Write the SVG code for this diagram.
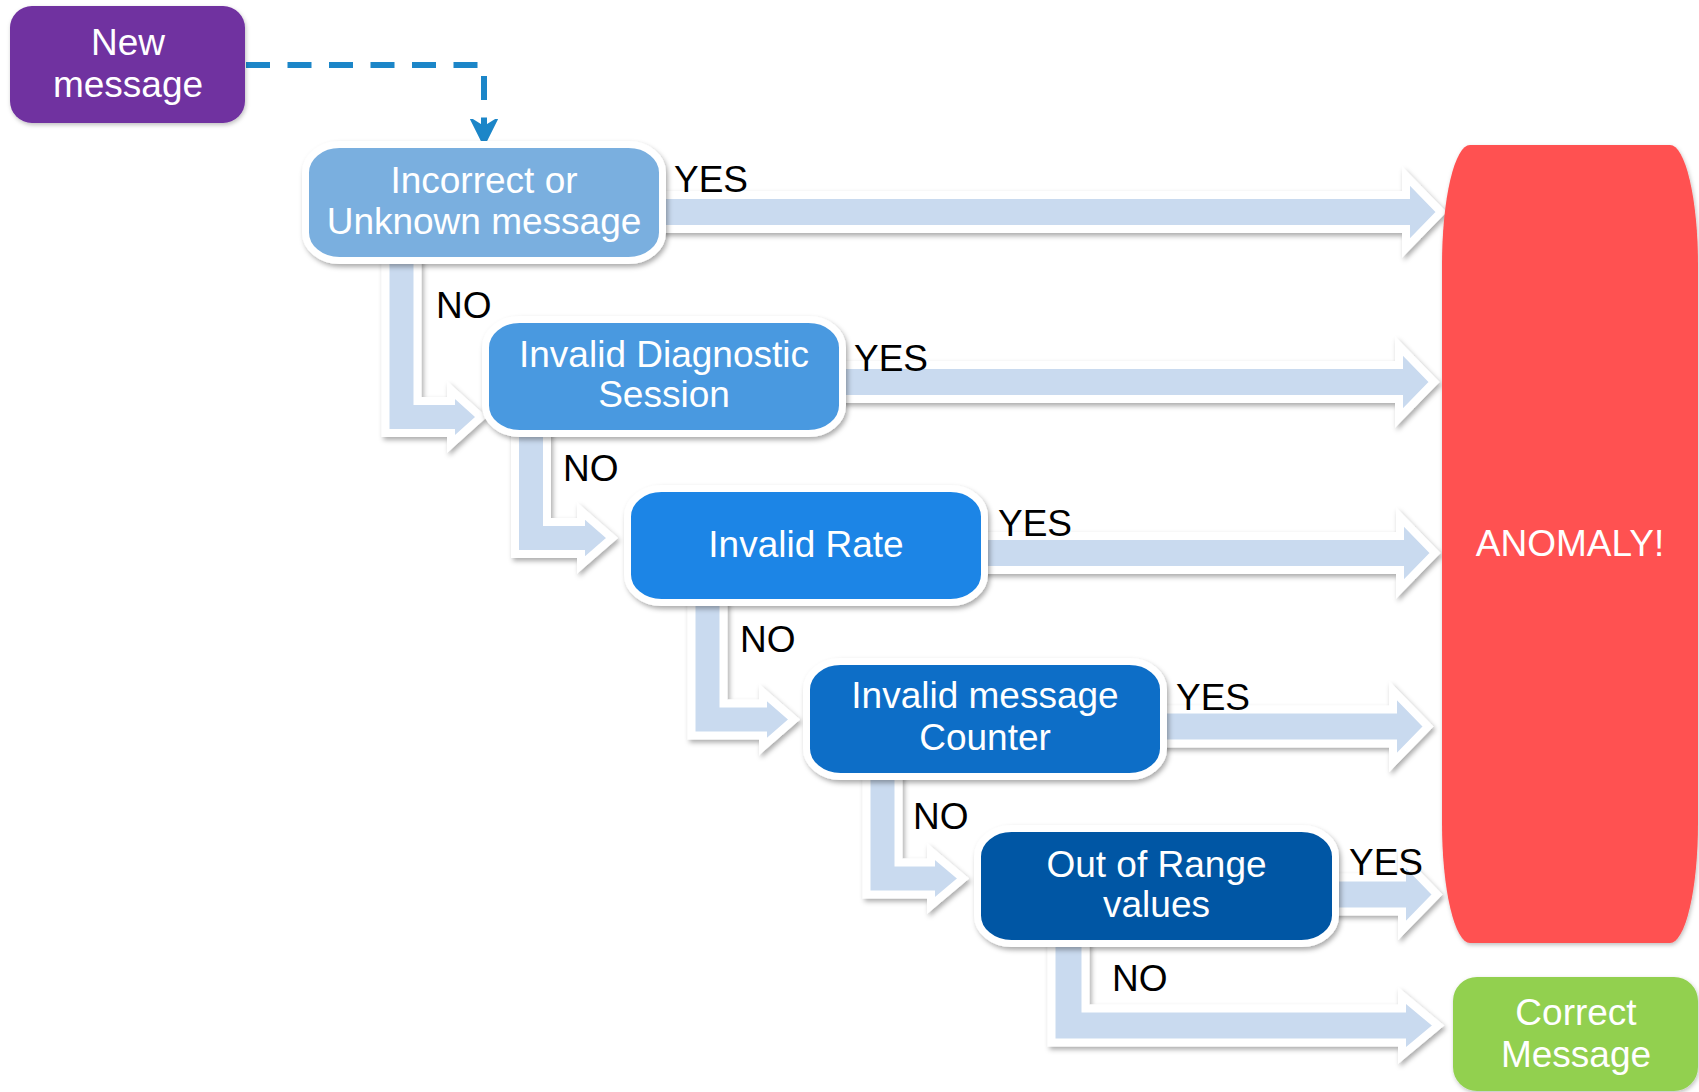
<svg xmlns="http://www.w3.org/2000/svg" width="1699" height="1092" viewBox="0 0 1699 1092">
<style>
text{font-family:"Liberation Sans",Arial,sans-serif;font-size:37px}
.w{fill:#fff;text-anchor:middle}
.lbl{fill:#000}
.blk{fill:#C9DAEF;stroke:#fff;stroke-width:8;stroke-linejoin:miter;filter:url(#sh)}
.dec{stroke:#fff;stroke-width:7;filter:url(#sh)}
</style>
<defs>
<filter id="sh" x="-10%" y="-20%" width="130%" height="150%">
<feDropShadow dx="2" dy="3" stdDeviation="2.5" flood-color="#000" flood-opacity="0.33"/>
</filter>
<filter id="sh2" x="-10%" y="-10%" width="130%" height="130%">
<feDropShadow dx="1" dy="2" stdDeviation="2" flood-color="#000" flood-opacity="0.25"/>
</filter>
<marker id="ah" markerUnits="userSpaceOnUse" viewBox="0 -15 28 30" refX="19" refY="0" markerWidth="28" markerHeight="30" orient="auto">
<path d="M0,-13 L8,0 L0,13 L26,0 Z" fill="#1C86C8" stroke="#1C86C8" stroke-width="2" stroke-linejoin="round"/>
</marker>
</defs>
<rect width="1699" height="1092" fill="#fff"/>

<g id="connectors">
<path d="M246,65 H484 V138" fill="none" stroke="#1C86C8" stroke-width="6" stroke-dasharray="24 17.5" marker-end="url(#ah)"/>
<polygon class="blk" points="655,195 1406,195 1406,176 1441,212 1406,248 1406,229 655,229"/>
<polygon class="blk" points="835,365 1399,365 1399,346 1434,382 1399,418 1399,399 835,399"/>
<polygon class="blk" points="977,536 1400,536 1400,517 1435,553 1400,589 1400,570 977,570"/>
<polygon class="blk" points="1156,709.5 1393,709.5 1393,690.5 1428,726.5 1393,762.5 1393,743.5 1156,743.5"/>
<polygon class="blk" points="1328,877.5 1402,877.5 1402,858.5 1437,894.5 1402,930.5 1402,911.5 1328,911.5"/>
<polygon class="blk" points="385.5,255 417.5,255 417.5,401 451,401 451,390 481,417 451,444 451,433 385.5,433"/>
<polygon class="blk" points="515,428 547,428 547,522 581,522 581,511 612,538 581,565 581,554 515,554"/>
<polygon class="blk" points="691.5,597 723.5,597 723.5,703.5 763,703.5 763,692.5 794,719.5 763,746.5 763,735.5 691.5,735.5"/>
<polygon class="blk" points="866.5,770 898.5,770 898.5,862.5 931,862.5 931,851.5 963,878.5 931,905.5 931,894.5 866.5,894.5"/>
<polygon class="blk" points="1051.5,937 1085.5,937 1085.5,1008.5 1402,1008.5 1402,995.5 1438,1025.5 1402,1055.5 1402,1042.5 1051.5,1042.5"/>
<text class="lbl" x="674" y="192">YES</text>
<text class="lbl" x="854" y="371">YES</text>
<text class="lbl" x="998" y="536">YES</text>
<text class="lbl" x="1176" y="710">YES</text>
<text class="lbl" x="1349" y="875">YES</text>
<text class="lbl" x="436" y="318">NO</text>
<text class="lbl" x="563" y="481">NO</text>
<text class="lbl" x="740" y="652">NO</text>
<text class="lbl" x="913" y="829">NO</text>
<text class="lbl" x="1112" y="991">NO</text>
</g>

<g id="node-new-message">
<rect x="10" y="6" width="235" height="117" rx="22" ry="22" fill="#7030A0" filter="url(#sh2)"/>
<text class="w" x="128" y="55">New</text>
<text class="w" x="128" y="97">message</text>
</g>

<g id="node-incorrect">
<rect class="dec" x="305.5" y="144.5" width="357" height="116" rx="34" ry="28" fill="#7AAFDF"/>
<text class="w" x="484" y="193">Incorrect or</text>
<text class="w" x="484" y="234">Unknown message</text>
</g>

<g id="node-session">
<rect class="dec" x="485.5" y="319.5" width="357" height="114" rx="34" ry="28" fill="#4A99E0"/>
<text class="w" x="664" y="367">Invalid Diagnostic</text>
<text class="w" x="664" y="407">Session</text>
</g>

<g id="node-rate">
<rect class="dec" x="627.5" y="488.5" width="357" height="114" rx="34" ry="28" fill="#1A85E6"/>
<text class="w" x="806" y="557">Invalid Rate</text>
</g>

<g id="node-counter">
<rect class="dec" x="806.5" y="661.5" width="357" height="115" rx="34" ry="28" fill="#0D6EC7"/>
<text class="w" x="985" y="708">Invalid message</text>
<text class="w" x="985" y="750">Counter</text>
</g>

<g id="node-range">
<rect class="dec" x="977.5" y="828.5" width="358" height="115" rx="34" ry="28" fill="#0156A4"/>
<text class="w" x="1156.5" y="877">Out of Range</text>
<text class="w" x="1156.5" y="917">values</text>
</g>

<g id="node-anomaly">
<path d="M1470,145 H1670 A28,120 0 0 1 1698,265 V823 A28,120 0 0 1 1670,943 H1470 A28,120 0 0 1 1442,823 V265 A28,120 0 0 1 1470,145 Z" fill="#FF5151" filter="url(#sh2)"/>
<text class="w" x="1570" y="556">ANOMALY!</text>
</g>

<g id="node-correct">
<rect x="1453" y="977" width="245" height="114" rx="24" ry="24" fill="#92D050" filter="url(#sh2)"/>
<text class="w" x="1576" y="1025">Correct</text>
<text class="w" x="1576" y="1067">Message</text>
</g>
</svg>
